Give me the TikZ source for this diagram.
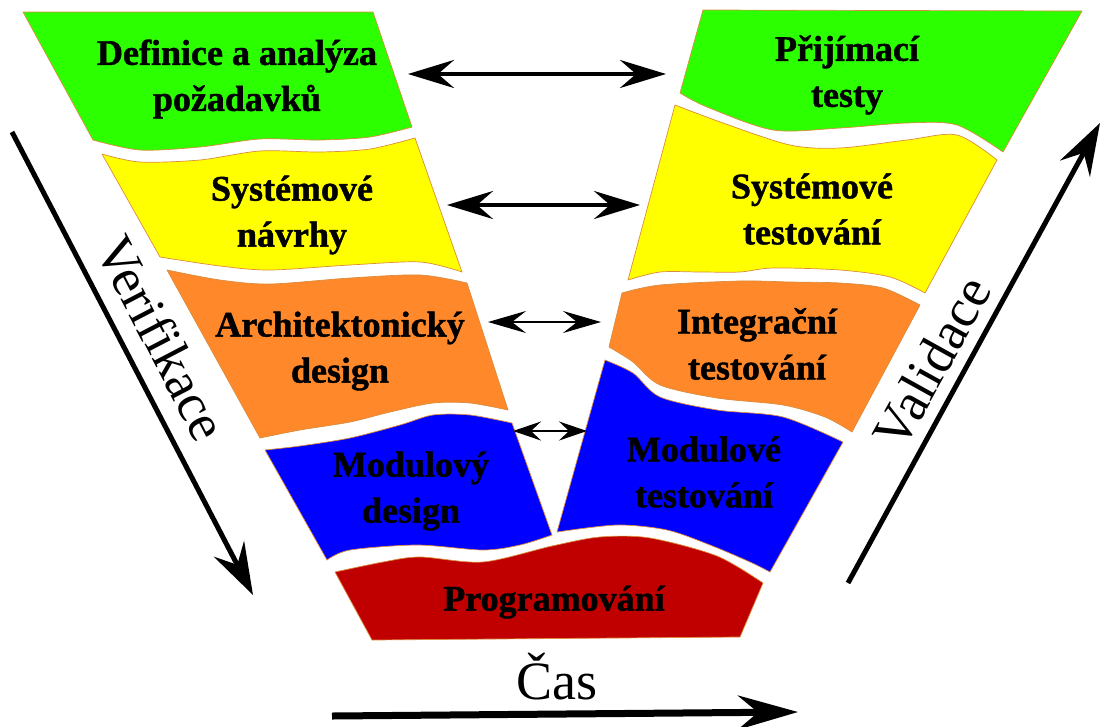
\documentclass[tikz,border=0pt]{standalone}
\usepackage{fontspec}
\setmainfont{Liberation Serif}
\newfontfamily\labfont{Liberation Serif}[BoldFeatures={FakeBold=1.2}]
\usetikzlibrary{arrows.meta}
\definecolor{cgreen}{RGB}{43,255,0}
\definecolor{cyellow}{RGB}{255,255,0}
\definecolor{corange}{RGB}{255,136,42}
\definecolor{cblue}{RGB}{0,0,255}
\definecolor{cred}{RGB}{192,0,0}
\definecolor{cedge}{RGB}{220,140,60}
\tikzset{
  band/.style={draw=cedge, line width=0.7pt, line join=round},
  lab/.style={font=\labfont\bfseries\fontsize{36}{46}\selectfont, align=center, inner sep=0pt},
  big/.style={font=\fontsize{54}{60}\selectfont, inner sep=0pt},
  dblA/.style={line width=4pt, {Stealth[length=46pt,width=28pt,inset=16pt]}-{Stealth[length=46pt,width=28pt,inset=16pt]}},
  dblB/.style={line width=2.4pt, {Stealth[length=38pt,width=22pt,inset=14pt]}-{Stealth[length=38pt,width=22pt,inset=14pt]}},
  dblC/.style={line width=2.2pt, {Stealth[length=28pt,width=19pt,inset=10pt]}-{Stealth[length=28pt,width=19pt,inset=10pt]}},
  axisarrow/.style={line width=5pt, -{Stealth[length=52pt,width=34pt,inset=18pt]}},
  timearrow/.style={line width=7pt, -{Stealth[length=60pt,width=34pt,inset=20pt]}}
}
\begin{document}
\begin{tikzpicture}[x=1pt,y=-1pt]
\useasboundingbox (0,0) rectangle (1102,726);
% ---- left column ----
\path[band, fill=cgreen] (23,12) -- (373,12) -- (412,127)
  -- plot[smooth] coordinates {(412,127) (370,137) (320,140) (260,139) (200,147) (140,150) (93,140)} -- cycle;
\path[band, fill=cyellow] (102,154)
  -- plot[smooth] coordinates {(102,154) (140,162) (200,160) (260,151) (320,152) (370,149) (415,138)}
  -- (462,272)
  -- plot[smooth] coordinates {(462,272) (420,262) (350,265) (270,270) (220,266) (160,257)} -- cycle;
\path[band, fill=corange] (167,270)
  -- plot[smooth] coordinates {(167,270) (220,280) (270,284) (350,278) (420,275) (467,283)}
  -- (508,410)
  -- plot[smooth] coordinates {(508,410) (470,403) (433,403) (390,412) (350,422) (300,430) (260,438)} -- cycle;
\path[band, fill=cblue] (265,450)
  -- plot[smooth] coordinates {(265,450) (300,446) (350,438) (400,425) (433,415) (470,415) (512,423)}
  -- (552,535)
  -- plot[smooth] coordinates {(552,535) (520,545) (483,550) (417,545) (350,550) (327,560)} -- cycle;
% ---- bottom ----
\path[band, fill=cred] (335,572)
  -- plot[smooth] coordinates {(335,572) (383,562) (420,557) (483,562) (552,546) (600,537) (650,538) (717,556) (763,583)}
  -- (740,637) -- (372,640) -- cycle;
% ---- right column ----
\path[band, fill=cgreen] (703,10) -- (1082,11) -- (1003,152)
  -- plot[smooth] coordinates {(1003,152) (957,125) (907,123) (840,128) (773,130) (707,107) (680,93)} -- cycle;
\path[band, fill=cyellow] (675,105)
  -- plot[smooth] coordinates {(675,105) (723,123) (790,145) (840,148) (907,140) (957,135) (997,160)}
  -- (925,293)
  -- plot[smooth] coordinates {(925,293) (890,277) (840,270) (773,268) (740,272) (700,272) (660,272) (628,280)} -- cycle;
\path[band, fill=corange] (622,293)
  -- plot[smooth] coordinates {(622,293) (660,285) (740,281) (790,282) (840,283) (883,288) (920,305)}
  -- (852,432)
  -- plot[smooth] coordinates {(852,432) (825,417) (783,405) (717,398) (660,385) (633,362) (609,347)} -- cycle;
\path[band, fill=cblue] (605,360)
  -- plot[smooth] coordinates {(605,360) (633,373) (660,397) (717,410) (783,417) (843,442)}
  -- (770,572)
  -- plot[smooth] coordinates {(770,572) (750,562) (710,545) (667,530) (617,525) (557,532)} -- cycle;
% ---- labels ----
\node[lab] (req) at (237,79) {Definice a  analýza\\požadavků};
\node[lab] (sys) at (292,215) {Systémové\\návrhy};
\node[lab] (arch) at (340,351) {Architektonický\\design};
\node[lab] (mod) at (411,491) {Modulový\\design};
\node[lab] (prog) at (554,602) {Programování};
\node[lab] (acc) at (847,75) {Přijímací\\testy};
\node[lab] (systest) at (812,209) {Systémové\\testování};
\node[lab] (integ) at (757,344) {Integrační\\testování};
\node[lab] (modtest) at (704,472) {Modulové\\testování};
% ---- horizontal double arrows ----
\coordinate (a1l) at (408,74);  \coordinate (a1r) at (666,74);
\coordinate (a2l) at (447,205); \coordinate (a2r) at (640,205);
\coordinate (a3l) at (488,322); \coordinate (a3r) at (601,322);
\coordinate (a4l) at (513,431); \coordinate (a4r) at (587,431);
\draw[dblA] (a1l) -- (a1r);
\draw[dblA] (a2l) -- (a2r);
\draw[dblB] (a3l) -- (a3r);
\draw[dblC] (a4l) -- (a4r);
% ---- axes ----
\coordinate (vs) at (12,132);  \coordinate (ve) at (253,595);
\coordinate (ls) at (848,583); \coordinate (le) at (1100,123);
\coordinate (ts) at (332,716); \coordinate (te) at (798,712);
\draw[axisarrow] (vs) -- (ve);
\draw[axisarrow] (ls) -- (le);
\draw[timearrow] (ts) -- (te);
\node[big, rotate=-62.5] (verif) at (162,338) {Verifikace};
\node[big, rotate=61] (valid) at (932,362) {Validace};
\node[big, anchor=base] (cas) at (557,699) {Čas};
\end{tikzpicture}
\end{document}
